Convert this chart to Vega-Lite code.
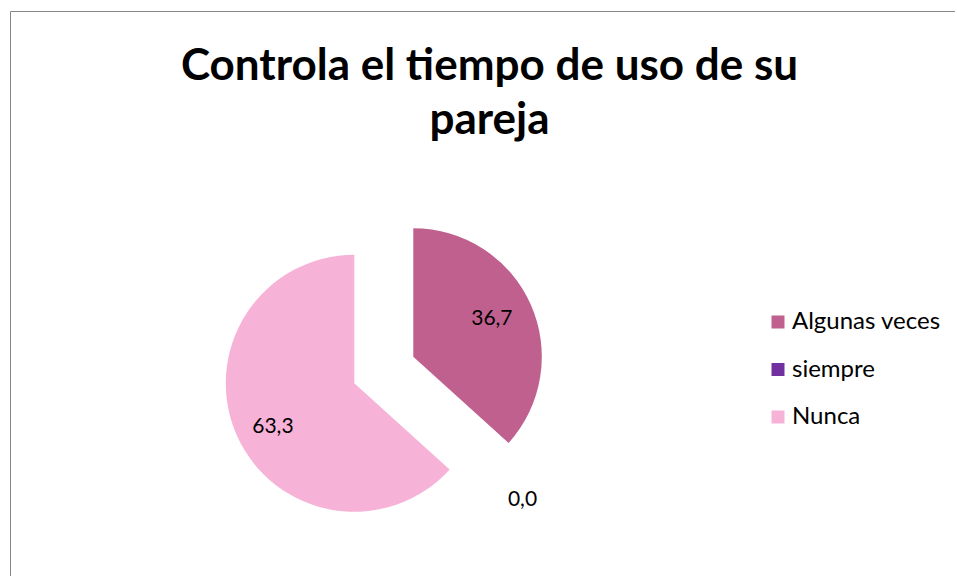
{
  "$schema": "https://vega.github.io/schema/vega-lite/v6.json",
  "autosize": {"type": "none"},
  "width": 950,
  "height": 570,
  "padding": {"left": 10, "top": 11, "right": -5, "bottom": -5},
  "background": "white",
  "view": {"stroke": "#868686", "strokeWidth": 1, "fill": "white"},
  "config": {
    "locale": {"number": {"decimal": ",", "thousands": ".", "grouping": [3], "currency": ["", " €"]}},
    "font": "Lato"
  },
  "title": {
    "text": ["Controla el tiempo de uso de su", "pareja"],
    "font": "Lato",
    "fontWeight": "bold",
    "fontSize": 44,
    "lineHeight": 54,
    "color": "black",
    "anchor": "middle",
    "frame": "group",
    "baseline": "top",
    "offset": -132,
    "dx": 4.5
  },
  "data": {
    "values": [
      {"cat": "Algunas veces", "pct": 36.7, "ord": 1},
      {"cat": "siempre", "pct": 0.0, "ord": 2},
      {"cat": "Nunca", "pct": 63.3, "ord": 3}
    ]
  },
  "encoding": {
    "theta": {"field": "pct", "type": "quantitative", "stack": true},
    "order": {"field": "ord", "type": "quantitative"}
  },
  "layer": [
    {
      "mark": {"type": "arc", "outerRadius": 128.5, "xOffset": -130.7, "yOffset": 87.3},
      "encoding": {
        "color": {
          "field": "cat", "type": "nominal",
          "scale": {"domain": ["Algunas veces", "siempre", "Nunca"], "range": ["#C0608F", "#7030A0", "#F7B2D8"]},
          "legend": {
            "title": null, "orient": "none", "legendX": 756, "legendY": 299,
            "symbolType": "square", "symbolSize": 169, "symbolStrokeWidth": 0,
            "labelFont": "Lato", "labelFontSize": 24, "labelColor": "black",
            "labelOffset": 2, "rowPadding": 23.5, "padding": 0, "labelLimit": 300
          }
        },
        "opacity": {"condition": {"test": "datum.cat === 'Nunca'", "value": 1}, "value": 0}
      }
    },
    {
      "mark": {"type": "arc", "outerRadius": 128.5, "xOffset": -71.7, "yOffset": 60.7},
      "encoding": {
        "color": {"field": "cat", "type": "nominal"},
        "opacity": {"condition": {"test": "datum.cat === 'Algunas veces'", "value": 1}, "value": 0}
      }
    },
    {
      "mark": {"type": "text", "radius": 86, "xOffset": -71.7, "yOffset": 60.7, "dy": -2.7, "fontSize": 21, "font": "Lato", "color": "black", "align": "center", "baseline": "middle"},
      "encoding": {
        "text": {"field": "pct", "type": "quantitative", "format": ".1f"},
        "opacity": {"condition": {"test": "datum.cat === 'Algunas veces'", "value": 1}, "value": 0}
      }
    },
    {
      "mark": {"type": "text", "radius": 92, "xOffset": -130.7, "yOffset": 87.3, "dx": 2.7, "dy": 6.3, "fontSize": 21, "font": "Lato", "color": "black", "align": "center", "baseline": "middle"},
      "encoding": {
        "text": {"field": "pct", "type": "quantitative", "format": ".1f"},
        "opacity": {"condition": {"test": "datum.cat === 'Nunca'", "value": 1}, "value": 0}
      }
    },
    {
      "mark": {"type": "text", "radius": 187, "xOffset": -101.2, "yOffset": 74, "dy": 5, "fontSize": 21, "font": "Lato", "color": "black", "align": "center", "baseline": "middle"},
      "encoding": {
        "text": {"field": "pct", "type": "quantitative", "format": ".1f"},
        "opacity": {"condition": {"test": "datum.cat === 'siempre'", "value": 1}, "value": 0}
      }
    }
  ]
}
